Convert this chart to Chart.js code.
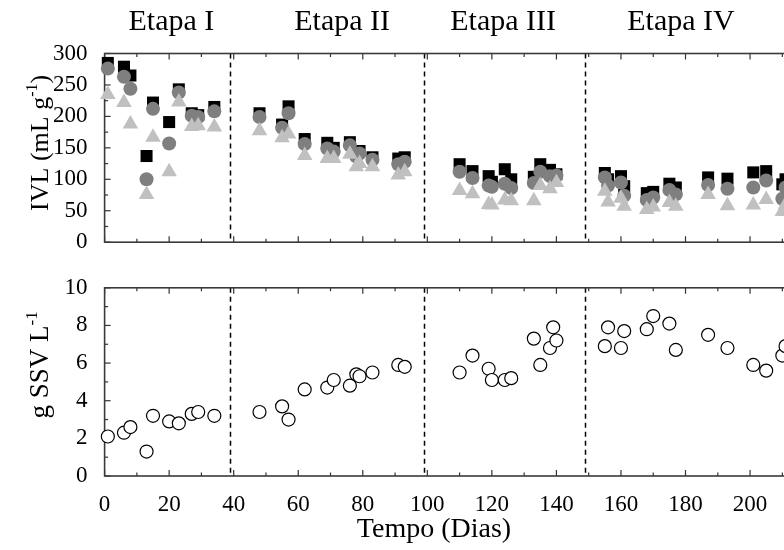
<!DOCTYPE html>
<html>
<head>
<meta charset="utf-8">
<script src="https://cdn.jsdelivr.net/npm/chart.js@4.4.1/dist/chart.umd.min.js"></script>
<style>
  html, body { margin: 0; padding: 0; background: #fff; width: 784px; height: 550px; overflow: hidden; }
  .panel { position: absolute; left: 0; }
  #panelTop { top: 0; }
  #panelBottom { top: 265px; }
</style>
</head>
<body>
<div class="panel" id="panelTop"><canvas id="ivlChart" width="860" height="265"></canvas></div>
<div class="panel" id="panelBottom"><canvas id="ssvChart" width="860" height="285"></canvas></div>
<script>
// Sampling days (Tempo, dias) for the IVL series
const ivlDays = [1, 6, 8, 13, 15, 20, 23, 27, 29, 34,
                 48, 55, 57, 62, 69, 71, 76, 78, 79, 83, 91, 93,
                 110, 114, 119, 120, 124, 126, 133, 135, 138, 140,
                 155, 156, 160, 161, 168, 170, 175, 177, 187, 193, 201, 205, 210, 211];

// IVL (mL/g) – black squares
const ivlSquare = [285, 279, 265, 137, 222, 191, 243, 205, 202, 215,
                   205, 187, 216, 164, 158, 150, 159, 140, 145, 135, 133, 135,
                   124, 113, 105, 96, 116, 100, 104, 124, 115, 108,
                   110, 100, 105, 89, 78, 80, 93, 87, 103, 101, 111, 113, 92, 100];

// IVL (mL/g) – gray circles
const ivlCircle = [276, 263, 244, 100, 212, 157, 238, 201, 199, 208,
                   199, 182, 205, 156, 149, 144, 154, 136, 141, 131, 124, 128,
                   112, 102, 90, 88, 93, 86, 94, 112, 105, 106,
                   103, 90, 95, 74, 67, 71, 83, 76, 91, 85, 87, 98, 69, 87];

// IVL (mL/g) – light gray triangles
const ivlTriangle = [235, 222, 188, 76, 167, 112, 223, 184, 185, 183,
                     177, 166, 172, 138, 133, 133, 140, 120, 125, 120, 107, 112,
                     82, 77, 60, 59, 67, 66, 66, 90, 85, 95,
                     81, 64, 70, 57, 52, 56, 63, 57, 76, 58, 59, 68, 49, 60];

// Sampling days for volatile suspended solids
const ssvDays = [1, 6, 8, 13, 15, 20, 23, 27, 29, 34,
                 48, 55, 57, 62, 69, 71, 76, 78, 79, 83, 91, 93,
                 110, 114, 119, 120, 124, 126, 133, 135, 138, 139, 140,
                 155, 156, 160, 161, 168, 170, 175, 177, 187, 193, 201, 205, 210, 211];

// SSV (g/L) – open circles
const ssvValues = [2.1, 2.3, 2.6, 1.3, 3.2, 2.9, 2.8, 3.3, 3.4, 3.2,
                   3.4, 3.7, 3.0, 4.6, 4.7, 5.1, 4.8, 5.4, 5.3, 5.5, 5.9, 5.8,
                   5.5, 6.4, 5.7, 5.1, 5.1, 5.2, 7.3, 5.9, 6.8, 7.9, 7.2,
                   6.9, 7.9, 6.8, 7.7, 7.8, 8.5, 8.1, 6.7, 7.5, 6.8, 5.9, 5.6, 6.4, 6.9];

// Stage boundaries (days) and stage names
const stageBounds = [39, 99, 149];
const stageNames = ['Etapa I', 'Etapa II', 'Etapa III', 'Etapa IV'];

const FONT = "'Liberation Serif', 'Times New Roman', serif";

const toPoints = (xs, ys) => xs.map((d, i) => ({ x: d, y: ys[i] }));

// Frame, inward major/minor ticks and dashed stage dividers
const frameTicks = {
  id: 'frameTicks',
  beforeDatasetsDraw(chart, args, opts) {
    const { ctx, chartArea: a, scales: { x, y } } = chart;
    ctx.save();
    ctx.strokeStyle = '#000';
    ctx.lineWidth = 1.5;
    ctx.setLineDash([5, 4]);
    stageBounds.forEach(d => {
      const px = Math.round(x.getPixelForValue(d)) + 0.5;
      ctx.beginPath();
      ctx.moveTo(px, a.top);
      ctx.lineTo(px, a.bottom);
      ctx.stroke();
    });
    ctx.setLineDash([]);
    ctx.strokeStyle = '#333';
    ctx.lineWidth = 1.2;
    const nx = Math.round((x.max - x.min) / opts.xMinor);
    for (let i = 0; i <= nx; i++) {
      const v = x.min + i * opts.xMinor;
      const px = x.getPixelForValue(v);
      const len = (i % (opts.xMajor / opts.xMinor) === 0) ? 6 : 3.5;
      ctx.beginPath();
      ctx.moveTo(px, a.bottom); ctx.lineTo(px, a.bottom - len);
      ctx.moveTo(px, a.top); ctx.lineTo(px, a.top + len);
      ctx.stroke();
    }
    const ny = Math.round((y.max - y.min) / opts.yMinor);
    for (let i = 0; i <= ny; i++) {
      const v = y.min + i * opts.yMinor;
      const py = y.getPixelForValue(v);
      const len = (i % (opts.yMajor / opts.yMinor) === 0) ? 6 : 3.5;
      ctx.beginPath();
      ctx.moveTo(a.left, py); ctx.lineTo(a.left + len, py);
      ctx.stroke();
    }
    ctx.strokeStyle = '#3a3a3a';
    ctx.lineWidth = 1.6;
    ctx.strokeRect(a.left, a.top, a.width, a.height);
    ctx.restore();
  }
};

// Rotated axis title with a raised exponent part
function drawRotated(ctx, cx, cy, parts, size) {
  ctx.save();
  ctx.translate(cx, cy);
  ctx.rotate(-Math.PI / 2);
  ctx.fillStyle = '#000';
  ctx.textBaseline = 'alphabetic';
  ctx.textAlign = 'left';
  const fontFor = p => `${p.sup ? Math.round(size * 0.62) : size}px ${FONT}`;
  let total = 0;
  parts.forEach(p => { ctx.font = fontFor(p); total += ctx.measureText(p.t).width; });
  let xPos = -total / 2;
  const base = size * 0.33;
  parts.forEach(p => {
    ctx.font = fontFor(p);
    ctx.fillText(p.t, xPos, p.sup ? base - size * 0.42 : base);
    xPos += ctx.measureText(p.t).width;
  });
  ctx.restore();
}

const chartText = {
  id: 'chartText',
  afterDraw(chart, args, opts) {
    const { ctx, chartArea: a, scales: { x } } = chart;
    ctx.save();
    if (opts.stages) {
      ctx.font = `${opts.stageSize}px ${FONT}`;
      ctx.fillStyle = '#000';
      ctx.textAlign = 'center';
      ctx.textBaseline = 'middle';
      opts.stages.forEach((d, i) => ctx.fillText(stageNames[i], x.getPixelForValue(d), opts.stageY));
    }
    if (opts.yTitle) {
      drawRotated(ctx, opts.yTitleX, (a.top + a.bottom) / 2 + (opts.yTitleShift || 0), opts.yTitle, opts.yTitleSize);
    }
    if (opts.xTitle) {
      ctx.font = `${opts.xTitleSize}px ${FONT}`;
      ctx.fillStyle = '#000';
      ctx.textAlign = 'center';
      ctx.textBaseline = 'middle';
      ctx.fillText(opts.xTitle, opts.xTitleX, opts.xTitleY);
    }
    ctx.restore();
  }
};

const tickFont = { family: FONT, size: 23 };

new Chart(document.getElementById('ivlChart'), {
  type: 'scatter',
  data: {
    datasets: [
      { label: 'triângulos', data: toPoints(ivlDays, ivlTriangle), pointStyle: 'triangle', pointRadius: 9,
        backgroundColor: '#c0c0c0', borderWidth: 0, clip: false },
      { label: 'círculos', data: toPoints(ivlDays, ivlCircle), pointStyle: 'circle', pointRadius: 7,
        backgroundColor: '#7f7f7f', borderWidth: 0, clip: false },
      { label: 'quadrados', data: toPoints(ivlDays, ivlSquare), pointStyle: 'rect', pointRadius: 8.5,
        backgroundColor: '#000', borderWidth: 0, clip: false }
    ]
  },
  options: {
    responsive: false,
    animation: false,
    events: [],
    layout: { padding: { top: 53.5, right: 45.4, bottom: 0, left: 0 } },
    plugins: {
      legend: { display: false },
      tooltip: { enabled: false },
      frameTicks: { xMinor: 10, xMajor: 20, yMinor: 25, yMajor: 50 },
      chartText: {
        stages: [20.7, 73.6, 123.5, 178.6], stageY: 22, stageSize: 30,
        yTitle: [{ t: 'IVL (mL g' }, { t: '-1', sup: true }, { t: ')' }],
        yTitleX: 39, yTitleSize: 26, yTitleShift: -5
      }
    },
    scales: {
      x: { type: 'linear', min: 0, max: 220, grid: { display: false }, border: { display: false },
           ticks: { display: false }, afterFit(s) { s.height = 14.5; } },
      y: { min: 0, max: 300, grid: { display: false }, border: { display: false },
           ticks: { stepSize: 50, font: tickFont, color: '#000', padding: 9 },
           afterFit(s) { s.width = 104.6; } }
    }
  },
  plugins: [frameTicks, chartText]
});

new Chart(document.getElementById('ssvChart'), {
  type: 'scatter',
  data: {
    datasets: [
      { label: 'SSV', data: toPoints(ssvDays, ssvValues), pointStyle: 'circle', pointRadius: 6.5,
        backgroundColor: '#fff', borderColor: '#000', borderWidth: 1.2, clip: false }
    ]
  },
  options: {
    responsive: false,
    animation: false,
    events: [],
    layout: { padding: { top: 14, right: 45.4, bottom: 0, left: 0 } },
    plugins: {
      legend: { display: false },
      tooltip: { enabled: false },
      frameTicks: { xMinor: 10, xMajor: 20, yMinor: 1, yMajor: 2 },
      chartText: {
        yTitle: [{ t: 'g SSV L' }, { t: '-1', sup: true }],
        yTitleX: 39, yTitleSize: 27, yTitleShift: -17,
        xTitle: 'Tempo (Dias)', xTitleX: 434, xTitleY: 265, xTitleSize: 28
      }
    },
    scales: {
      x: { type: 'linear', min: 0, max: 220, grid: { display: false }, border: { display: false },
           ticks: { stepSize: 20, font: tickFont, color: '#000', padding: 7,
                    callback: v => (v > 210 ? '' : v) },
           afterFit(s) { s.height = 74; } },
      y: { min: 0, max: 10, grid: { display: false }, border: { display: false },
           ticks: { stepSize: 2, font: tickFont, color: '#000', padding: 9 },
           afterFit(s) { s.width = 104.6; } }
    }
  },
  plugins: [frameTicks, chartText]
});
</script>
</body>
</html>
